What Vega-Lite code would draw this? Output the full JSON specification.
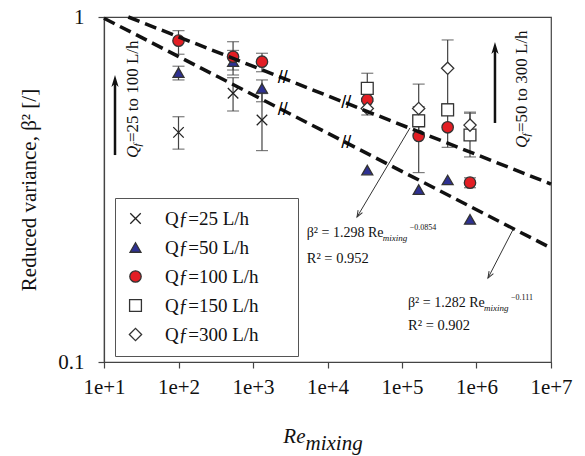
{
  "$schema": "https://vega.github.io/schema/vega-lite/v6.json",
  "width": 447,
  "height": 345,
  "autosize": {"type": "none"},
  "padding": {"left": 104, "top": 17, "right": 34, "bottom": 94},
  "background": "white",
  "config": {
    "font": "Liberation Serif",
    "view": {"stroke": "#444", "strokeWidth": 1.2},
    "axis": {
      "domainColor": "#444", "domainWidth": 1.2, "tickColor": "#444", "tickWidth": 1.2, "tickSize": 6,
      "labelFont": "Liberation Serif", "labelFontSize": 21, "labelColor": "#111",
      "titleFont": "Liberation Serif", "titleFontSize": 21, "titleFontWeight": "normal", "titleColor": "#111",
      "grid": false
    },
    "legend": {
      "labelFont": "Liberation Serif", "labelFontSize": 19, "labelColor": "#111"
    }
  },
  "datasets": {
    "pts": [
      {"series": "Qƒ=25 L/h", "re": 100, "beta": 0.463},
      {"series": "Qƒ=25 L/h", "re": 540, "beta": 0.601},
      {"series": "Qƒ=25 L/h", "re": 1320, "beta": 0.503},
      {"series": "Qƒ=50 L/h", "re": 100, "beta": 0.69},
      {"series": "Qƒ=50 L/h", "re": 540, "beta": 0.742},
      {"series": "Qƒ=50 L/h", "re": 1320, "beta": 0.621},
      {"series": "Qƒ=50 L/h", "re": 34200, "beta": 0.36},
      {"series": "Qƒ=50 L/h", "re": 167500, "beta": 0.316},
      {"series": "Qƒ=50 L/h", "re": 410000, "beta": 0.337},
      {"series": "Qƒ=50 L/h", "re": 818000, "beta": 0.259},
      {"series": "Qƒ=100 L/h", "re": 100, "beta": 0.854},
      {"series": "Qƒ=100 L/h", "re": 540, "beta": 0.767},
      {"series": "Qƒ=100 L/h", "re": 1320, "beta": 0.742},
      {"series": "Qƒ=100 L/h", "re": 34200, "beta": 0.575},
      {"series": "Qƒ=100 L/h", "re": 167500, "beta": 0.452},
      {"series": "Qƒ=100 L/h", "re": 410000, "beta": 0.479},
      {"series": "Qƒ=100 L/h", "re": 818000, "beta": 0.331},
      {"series": "Qƒ=150 L/h", "re": 34200, "beta": 0.621},
      {"series": "Qƒ=150 L/h", "re": 167500, "beta": 0.5},
      {"series": "Qƒ=150 L/h", "re": 410000, "beta": 0.538},
      {"series": "Qƒ=150 L/h", "re": 818000, "beta": 0.455},
      {"series": "Qƒ=300 L/h", "re": 34200, "beta": 0.543},
      {"series": "Qƒ=300 L/h", "re": 167500, "beta": 0.543},
      {"series": "Qƒ=300 L/h", "re": 410000, "beta": 0.71},
      {"series": "Qƒ=300 L/h", "re": 818000, "beta": 0.486}
    ],
    "err": [
      {"re": 100, "lo": 0.414, "hi": 0.514},
      {"re": 540, "lo": 0.534, "hi": 0.667},
      {"re": 1320, "lo": 0.41, "hi": 0.6},
      {"re": 100, "lo": 0.657, "hi": 0.72},
      {"re": 540, "lo": 0.679, "hi": 0.8},
      {"re": 1320, "lo": 0.568, "hi": 0.657},
      {"re": 100, "lo": 0.78, "hi": 0.913},
      {"re": 540, "lo": 0.702, "hi": 0.848},
      {"re": 1320, "lo": 0.694, "hi": 0.785},
      {"re": 167500, "lo": 0.354, "hi": 0.52},
      {"re": 410000, "lo": 0.419, "hi": 0.538},
      {"re": 818000, "lo": 0.32, "hi": 0.342},
      {"re": 34200, "lo": 0.57, "hi": 0.687},
      {"re": 167500, "lo": 0.46, "hi": 0.55},
      {"re": 410000, "lo": 0.52, "hi": 0.56},
      {"re": 818000, "lo": 0.393, "hi": 0.53},
      {"re": 34200, "lo": 0.52, "hi": 0.57},
      {"re": 167500, "lo": 0.5, "hi": 0.639},
      {"re": 410000, "lo": 0.56, "hi": 0.858},
      {"re": 818000, "lo": 0.44, "hi": 0.526}
    ],
    "fits": [
      {"fit": "a", "re": 21.2, "beta": 1.0},
      {"fit": "a", "re": 10000000, "beta": 0.328},
      {"fit": "b", "re": 10, "beta": 0.992},
      {"fit": "b", "re": 10000000, "beta": 0.214}
    ],
    "breaks": [
      {"re": 2500, "beta": 0.6655},
      {"re": 17800, "beta": 0.5627},
      {"re": 2500, "beta": 0.538},
      {"re": 17800, "beta": 0.4326}
    ],
    "vArrows": [
      {"id": "L", "o": 0, "re": 14.05, "beta": 0.398},
      {"id": "L", "o": 1, "re": 14.05, "beta": 0.644},
      {"id": "R", "o": 0, "re": 1770000, "beta": 0.493},
      {"id": "R", "o": 1, "re": 1770000, "beta": 0.802}
    ],
    "vHeads": [
      {"re": 14.05, "beta": 0.679},
      {"re": 1770000, "beta": 0.846}
    ],
    "dArrows": [
      {"id": "1", "o": 0, "re": 128000, "beta": 0.477},
      {"id": "1", "o": 1, "re": 24900, "beta": 0.2632},
      {"id": "2", "o": 0, "re": 3090000, "beta": 0.242},
      {"id": "2", "o": 1, "re": 1426000, "beta": 0.1751}
    ],
    "dHeads": [
      {"re": 24900, "beta": 0.2632},
      {"re": 1426000, "beta": 0.1751}
    ],
    "eqs": [
      {"re": 5259, "beta": 0.2303, "main": "β² = 1.298 Re", "sub": "mixing", "sup": "−0.0854"},
      {"re": 120360, "beta": 0.1443, "main": "β² = 1.282 Re", "sub": "mixing", "sup": "−0.111"}
    ],
    "r2": [
      {"re": 5259, "beta": 0.1936, "t": "R² = 0.952"},
      {"re": 120360, "beta": 0.1238, "t": "R² = 0.902"}
    ],
    "vtext": [
      {"re": 28.6, "beta": 0.39, "q": "Q", "f": "f", "rest": "=25 to 100 L/h"},
      {"re": 4760000, "beta": 0.417, "q": "Q", "f": "f", "rest": "=50 to 300 L/h"}
    ],
    "xtitle": [
      {"re": 10000, "beta": 0.1, "a": "Re", "b": "mixing"}
    ]
  },
  "encoding": {
    "x": {
      "field": "re", "type": "quantitative",
      "scale": {"type": "log", "domain": [10, 10000000], "nice": false},
      "axis": {
        "title": null,
        "values": [10, 100, 1000, 10000, 100000, 1000000, 10000000],
        "labelExpr": "'1e+' + round(log(datum.value) / LN10)",
        "labelPadding": 8, "labelFlush": false, "labelOverlap": false
      }
    },
    "y": {
      "field": "beta", "type": "quantitative",
      "scale": {"type": "log", "domain": [0.1, 1], "nice": false},
      "axis": {
        "title": "Reduced variance, β² [/]",
        "values": [0.1, 1],
        "labelExpr": "datum.value < 0.5 ? '0.1' : '1'",
        "labelPadding": 14, "titlePadding": 18
      }
    }
  },
  "layer": [
    {
      "data": {"name": "err"},
      "mark": {"type": "rule", "color": "#444", "strokeWidth": 1.2},
      "encoding": {
        "y": {"field": "lo", "type": "quantitative", "scale": {"type": "log", "domain": [0.1, 1], "nice": false}},
        "y2": {"field": "hi"}
      }
    },
    {
      "data": {"name": "err"},
      "mark": {"type": "tick", "orient": "horizontal", "color": "#444", "size": 12, "thickness": 1.2},
      "encoding": {
        "y": {"field": "lo", "type": "quantitative", "scale": {"type": "log", "domain": [0.1, 1], "nice": false}}
      }
    },
    {
      "data": {"name": "err"},
      "mark": {"type": "tick", "orient": "horizontal", "color": "#444", "size": 12, "thickness": 1.2},
      "encoding": {
        "y": {"field": "hi", "type": "quantitative", "scale": {"type": "log", "domain": [0.1, 1], "nice": false}}
      }
    },
    {
      "data": {"name": "pts"},
      "mark": {"type": "point", "filled": true, "strokeWidth": 1.3, "opacity": 1},
      "encoding": {
        "shape": {
          "field": "series", "type": "nominal",
          "scale": {
            "domain": ["Qƒ=25 L/h", "Qƒ=50 L/h", "Qƒ=100 L/h", "Qƒ=150 L/h", "Qƒ=300 L/h"],
            "range": ["M-1,-1L1,1M1,-1L-1,1", "triangle-up", "circle", "square", "diamond"]
          },
          "legend": {
            "title": null, "orient": "none", "legendX": 11, "legendY": 181,
            "strokeColor": "#555", "fillColor": "white", "padding": 11,
            "rowPadding": 9, "labelOffset": 20, "symbolStrokeWidth": 1.3,
            "labelExpr": "datum.label + '\u2800\u2800'"
          }
        },
        "fill": {
          "field": "series", "type": "nominal",
          "scale": {
            "domain": ["Qƒ=25 L/h", "Qƒ=50 L/h", "Qƒ=100 L/h", "Qƒ=150 L/h", "Qƒ=300 L/h"],
            "range": ["white", "#2e3192", "#e31e24", "white", "white"]
          },
          "legend": {
            "title": null, "orient": "none", "legendX": 11, "legendY": 181,
            "strokeColor": "#555", "fillColor": "white", "padding": 11,
            "rowPadding": 9, "labelOffset": 20, "symbolStrokeWidth": 1.3,
            "labelExpr": "datum.label + '\u2800\u2800'"
          }
        },
        "stroke": {
          "field": "series", "type": "nominal",
          "scale": {
            "domain": ["Qƒ=25 L/h", "Qƒ=50 L/h", "Qƒ=100 L/h", "Qƒ=150 L/h", "Qƒ=300 L/h"],
            "range": ["#222", "#333", "#333", "#333", "#333"]
          },
          "legend": {
            "title": null, "orient": "none", "legendX": 11, "legendY": 181,
            "strokeColor": "#555", "fillColor": "white", "padding": 11,
            "rowPadding": 9, "labelOffset": 20, "symbolStrokeWidth": 1.3,
            "labelExpr": "datum.label + '\u2800\u2800'"
          }
        },
        "size": {
          "field": "series", "type": "nominal",
          "scale": {
            "domain": ["Qƒ=25 L/h", "Qƒ=50 L/h", "Qƒ=100 L/h", "Qƒ=150 L/h", "Qƒ=300 L/h"],
            "range": [110, 150, 200, 150, 180]
          },
          "legend": {
            "title": null, "orient": "none", "legendX": 11, "legendY": 181,
            "strokeColor": "#555", "fillColor": "white", "padding": 11,
            "rowPadding": 9, "labelOffset": 20, "symbolStrokeWidth": 1.3,
            "labelExpr": "datum.label + '\u2800\u2800'"
          }
        }
      }
    },
    {
      "data": {"name": "fits"},
      "mark": {"type": "line", "color": "#111", "strokeWidth": 3.5, "strokeDash": [12, 6]},
      "encoding": {"detail": {"field": "fit"}}
    },
    {
      "data": {"name": "breaks"},
      "mark": {"type": "text", "text": "//", "font": "Liberation Sans", "fontSize": 18, "fill": "#000", "align": "center", "baseline": "middle"},
      "encoding": {}
    },
    {
      "data": {"name": "vArrows"},
      "mark": {"type": "line", "color": "#111", "strokeWidth": 2.5},
      "encoding": {"detail": {"field": "id"}, "order": {"field": "o"}}
    },
    {
      "data": {"name": "vHeads"},
      "mark": {"type": "point", "shape": "M0,0L-0.45,1.5L0,1.1L0.45,1.5Z", "filled": true, "color": "#111", "size": 256, "opacity": 1},
      "encoding": {}
    },
    {
      "data": {"name": "dArrows"},
      "mark": {"type": "line", "color": "#333", "strokeWidth": 1},
      "encoding": {"detail": {"field": "id"}, "order": {"field": "o"}}
    },
    {
      "data": {"name": "dHeads"},
      "mark": {"type": "point", "shape": "M-0.5,1.3L0,0L0.5,1.3", "filled": false, "stroke": "#333", "strokeWidth": 1, "size": 100, "angle": 210, "opacity": 1},
      "encoding": {}
    },
    {
      "data": {"name": "eqs"},
      "mark": {"type": "text", "align": "left", "baseline": "alphabetic", "fontSize": 14, "fill": "#111"},
      "encoding": {"text": {"field": "main"}}
    },
    {
      "data": {"name": "eqs"},
      "mark": {"type": "text", "align": "left", "baseline": "alphabetic", "fontSize": 9, "fontStyle": "italic", "dx": 76, "dy": 4, "fill": "#111"},
      "encoding": {"text": {"field": "sub"}}
    },
    {
      "data": {"name": "eqs"},
      "mark": {"type": "text", "align": "left", "baseline": "alphabetic", "fontSize": 8, "dx": 103, "dy": -7, "fill": "#111"},
      "encoding": {"text": {"field": "sup"}}
    },
    {
      "data": {"name": "r2"},
      "mark": {"type": "text", "align": "left", "baseline": "alphabetic", "fontSize": 14.5, "fill": "#111"},
      "encoding": {"text": {"field": "t"}}
    },
    {
      "data": {"name": "vtext"},
      "mark": {"type": "text", "align": "left", "baseline": "alphabetic", "angle": 270, "fontSize": 17, "fontStyle": "italic", "fill": "#111"},
      "encoding": {"text": {"field": "q"}}
    },
    {
      "data": {"name": "vtext"},
      "mark": {"type": "text", "align": "left", "baseline": "alphabetic", "angle": 270, "fontSize": 11, "fontStyle": "italic", "dx": 11.5, "dy": 3, "fill": "#111"},
      "encoding": {"text": {"field": "f"}}
    },
    {
      "data": {"name": "vtext"},
      "mark": {"type": "text", "align": "left", "baseline": "alphabetic", "angle": 270, "fontSize": 17, "dx": 16, "fill": "#111"},
      "encoding": {"text": {"field": "rest"}}
    },
    {
      "data": {"name": "xtitle"},
      "mark": {"type": "text", "align": "right", "baseline": "alphabetic", "fontSize": 21, "fontStyle": "italic", "dx": -22, "dy": 81, "fill": "#111"},
      "encoding": {"text": {"field": "a"}}
    },
    {
      "data": {"name": "xtitle"},
      "mark": {"type": "text", "align": "left", "baseline": "alphabetic", "fontSize": 21, "fontStyle": "italic", "dx": -22, "dy": 88, "fill": "#111"},
      "encoding": {"text": {"field": "b"}}
    }
  ]
}
